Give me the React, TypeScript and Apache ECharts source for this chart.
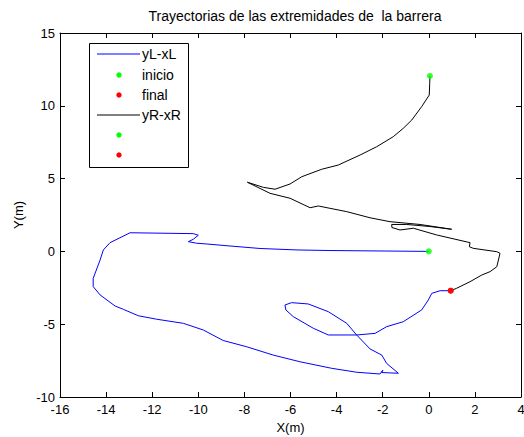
import React, { useEffect, useRef } from "react";
import * as echarts from "echarts";

const titleText = "Trayectorias de las extremidades de  la barrera";
const xTicks = { min: -16, max: 4, interval: 2 };
const yTicks = { min: -10, max: 15, interval: 5 };

const blueX = [0.0, -4.29, -5.72, -7.32, -8.62, -9.64, -10.07, -10.43, -10.22, -10.0, -10.22, -12.96, -13.83, -14.12, -14.26, -14.56, -14.56, -14.26, -13.61, -13.25, -12.6, -11.8, -10.65, -9.78, -8.92, -7.9, -6.75, -5.59, -4.21, -3.13, -2.12, -1.99, -2.05, -1.32, -1.83, -2.04, -2.55, -3.13, -3.56, -4.36, -5.23, -5.95, -6.24, -6.2, -5.88, -5.01, -4.36, -3.13, -2.33, -1.83, -1.11, -0.31, -0.02, 0.13, 0.49, 0.95];
const blueY = [0.0, 0.06, 0.1, 0.2, 0.37, 0.51, 0.56, 0.67, 0.83, 1.11, 1.22, 1.28, 0.6, 0.1, -0.59, -1.85, -2.42, -2.99, -3.75, -3.98, -4.42, -4.66, -4.94, -5.4, -6.12, -6.55, -7.12, -7.58, -8.03, -8.3, -8.42, -8.15, -8.32, -8.37, -7.69, -7.12, -6.7, -5.74, -4.94, -4.14, -3.61, -3.52, -3.68, -4.02, -4.48, -5.28, -5.74, -5.74, -5.63, -5.17, -4.83, -4.02, -3.34, -2.88, -2.7, -2.7];

const blackX = [0.05, 0.04, 0.02, -0.31, -0.74, -1.11, -1.54, -2.26, -2.98, -3.93, -4.65, -5.51, -6.02, -6.67, -7.18, -7.87, -6.89, -6.02, -5.15, -4.79, -4.29, -3.56, -2.55, -1.68, -0.38, 0.99, 0.05, -0.96, -1.61, -1.6, -1.25, -0.67, 0.34, 1.79, 1.76, 1.93, 2.95, 3.09, 2.95, 2.66, 2.3, 1.79, 1.21, 0.95];
const blackY = [12.05, 11.55, 10.74, 9.94, 9.02, 8.45, 7.88, 7.19, 6.62, 5.93, 5.64, 5.13, 4.63, 4.27, 4.4, 4.75, 3.99, 3.65, 3.0, 3.12, 2.96, 2.73, 2.31, 2.04, 1.85, 1.52, 1.71, 1.85, 1.85, 1.64, 1.47, 1.59, 1.13, 0.6, 0.32, 0.21, -0.02, -0.13, -1.05, -1.39, -1.62, -2.08, -2.53, -2.7];

const legendNames = ["yL-xL", "inicio", "final", "yR-xR", "", ""];

const FONT = "Arial, 'Liberation Sans', Helvetica, sans-serif";

function zip(xs: number[], ys: number[]) {
  return xs.map((x, i) => [x, ys[i]]);
}

export default function App() {
  const ref = useRef<HTMLDivElement>(null);
  useEffect(() => {
    if (!ref.current) return;
    const chart = echarts.init(ref.current, undefined, { renderer: "svg", width: 524, height: 437 });
    const blue = zip(blueX, blueY);
    const black = zip(blackX, blackY);
    const axisCommon = {
      type: "value" as const,
      axisLine: { show: true, onZero: false, lineStyle: { color: "#000", width: 1 } },
      axisTick: { show: true, inside: true, length: 5, lineStyle: { color: "#000" } },
      splitLine: { show: false },
    };
    const lx0 = 97, lx1 = 140, tx = 142, cx = 119;
    const rows = [54, 75, 95, 115, 135, 155];
    const legendGraphics: any[] = [
      { type: "rect", shape: { x: 89.5, y: 43.5, width: 99, height: 124 }, style: { fill: "#fff", stroke: "#000", lineWidth: 1 }, z: 100 },
      { type: "line", shape: { x1: lx0, y1: rows[0], x2: lx1, y2: rows[0] }, style: { stroke: "#0000ff", lineWidth: 1 }, z: 101 },
      { type: "circle", shape: { cx, cy: rows[1], r: 2.7 }, style: { fill: "#00ff00" }, z: 101 },
      { type: "circle", shape: { cx, cy: rows[2], r: 2.7 }, style: { fill: "#ff0000" }, z: 101 },
      { type: "line", shape: { x1: lx0, y1: rows[3], x2: lx1, y2: rows[3] }, style: { stroke: "#000", lineWidth: 1 }, z: 101 },
      { type: "circle", shape: { cx, cy: rows[4], r: 2.7 }, style: { fill: "#00ff00" }, z: 101 },
      { type: "circle", shape: { cx, cy: rows[5], r: 2.7 }, style: { fill: "#ff0000" }, z: 101 },
    ];
    legendNames.forEach((n, i) => {
      if (!n) return;
      legendGraphics.push({
        type: "text",
        x: tx,
        y: rows[i],
        style: { text: n, fill: "#000", font: `14px ${FONT}`, textVerticalAlign: "middle", textAlign: "left" },
        z: 101,
      });
    });
    chart.setOption({
      animation: false,
      backgroundColor: "#fff",
      title: {
        text: titleText,
        left: 290,
        top: 4,
        textAlign: "center",
        textStyle: { fontFamily: FONT, fontSize: 14, fontWeight: "normal", color: "#000" },
      },
      grid: { left: 60, width: 461, top: 33, height: 364, containLabel: false, outerBoundsMode: "none" },
      xAxis: [
        {
          ...axisCommon,
          position: "bottom",
          min: xTicks.min,
          max: xTicks.max,
          interval: xTicks.interval,
          axisLabel: { show: true, color: "#000", fontFamily: FONT, fontSize: 13, margin: 6 },
          name: "X(m)",
          nameLocation: "middle",
          nameGap: 17,
          nameTextStyle: { color: "#000", fontFamily: FONT, fontSize: 13 },
        },
        {
          ...axisCommon,
          position: "top",
          min: xTicks.min,
          max: xTicks.max,
          interval: xTicks.interval,
          axisLabel: { show: false },
        },
      ],
      yAxis: [
        {
          ...axisCommon,
          position: "left",
          min: yTicks.min,
          max: yTicks.max,
          interval: yTicks.interval,
          axisLabel: { show: true, color: "#000", fontFamily: FONT, fontSize: 13, margin: 5 },
          name: "Y(m)",
          nameLocation: "middle",
          nameRotate: 90,
          nameGap: 31,
          nameTextStyle: { color: "#000", fontFamily: FONT, fontSize: 13 },
        },
        {
          ...axisCommon,
          position: "right",
          min: yTicks.min,
          max: yTicks.max,
          interval: yTicks.interval,
          axisLabel: { show: false },
        },
      ],
      series: [
        { name: legendNames[0], type: "line", data: blue, showSymbol: false, lineStyle: { color: "#0000ff", width: 1 }, itemStyle: { color: "#0000ff" }, z: 2 },
        { name: legendNames[1], type: "scatter", data: [blue[0]], symbolSize: 6, itemStyle: { color: "#00ff00" }, z: 5 },
        { name: legendNames[2], type: "scatter", data: [blue[blue.length - 1]], symbolSize: 6, itemStyle: { color: "#ff0000" }, z: 5 },
        { name: legendNames[3], type: "line", data: black, showSymbol: false, lineStyle: { color: "#000", width: 1 }, itemStyle: { color: "#000" }, z: 3 },
        { name: "inicio2", type: "scatter", data: [black[0]], symbolSize: 6, itemStyle: { color: "#00ff00" }, z: 5 },
        { name: "final2", type: "scatter", data: [black[black.length - 1]], symbolSize: 6, itemStyle: { color: "#ff0000" }, z: 5 },
      ],
      graphic: legendGraphics,
    });
    return () => chart.dispose();
  }, []);
  return <div ref={ref} style={{ width: 524, height: 437, position: "absolute", left: 0, top: 0, overflow: "hidden" }} />;
}
